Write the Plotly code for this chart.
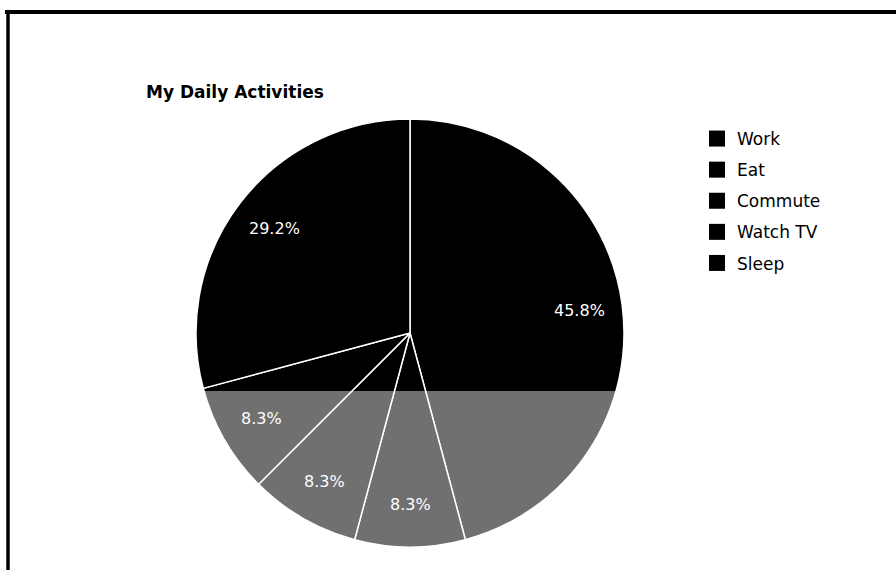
import math
import plotly.graph_objects as go

# Hours per day spent on each activity
activities = ["Work", "Eat", "Commute", "Watch TV", "Sleep"]
hours = [11, 2, 2, 2, 7]
slice_colors = ["#000000", "#000000", "#000000", "#000000", "#000000"]

W, H = 896, 577
FONT = "DejaVu Sans, Liberation Sans, Arial"

# pie geometry in page pixels
CX, CY, R = 410, 333, 214
LABEL_R = 0.8 * R


def px_x(x):
    return x / W


def px_y(y):
    return 1 - y / H


fig = go.Figure(
    go.Pie(
        labels=activities,
        values=hours,
        sort=False,
        direction="clockwise",
        rotation=0,
        marker=dict(colors=slice_colors, line=dict(color="white", width=1.5)),
        textinfo="none",
        hoverinfo="label+value+percent",
        showlegend=False,
        domain=dict(x=[px_x(CX - R), px_x(CX + R)], y=[px_y(CY + R), px_y(CY - R)]),
    )
)

# legend entries: one square-marker trace per activity, each in its own group
for name, col in zip(activities, slice_colors):
    fig.add_trace(go.Scatter(
        x=[None], y=[None], mode="markers", name=name, legendgroup=name,
        marker=dict(symbol="square", size=18, color=col),
        hoverinfo="skip", showlegend=True,
    ))

# percentage labels placed at each slice's mid-angle (clockwise from 12 o'clock)
total = sum(hours)
annotations = []
acc = 0.0
for v in hours:
    mid = (acc + v / 2) / total * 2 * math.pi
    acc += v
    lx = CX + LABEL_R * math.sin(mid)
    ly = CY - LABEL_R * math.cos(mid)
    annotations.append(dict(
        text=f"{v / total * 100:.1f}%", xref="paper", yref="paper",
        x=px_x(lx), y=px_y(ly), xanchor="center", yanchor="middle",
        showarrow=False, font=dict(size=16, color="white", family=FONT),
    ))

annotations.append(dict(
    text="<b>My Daily Activities</b>", xref="paper", yref="paper",
    x=px_x(144), y=px_y(92), xanchor="left", yanchor="middle",
    showarrow=False, font=dict(size=17, color="black", family=FONT),
))

shapes = [
    # frame lines along the top and left edges
    dict(type="line", xref="paper", yref="paper",
         x0=px_x(5), x1=1.0, y0=px_y(12), y1=px_y(12),
         line=dict(color="black", width=4), layer="above"),
    dict(type="line", xref="paper", yref="paper",
         x0=px_x(8), x1=px_x(8), y0=px_y(10), y1=px_y(570),
         line=dict(color="black", width=3.5), layer="above"),
    # pale wash over the lower band of the page
    dict(type="rect", xref="paper", yref="paper",
         x0=px_x(10), x1=1.0, y0=0.0, y1=px_y(391),
         fillcolor="rgba(255,255,255,0.44)", line=dict(width=0), layer="above"),
]

fig.update_layout(
    width=W,
    height=H,
    margin=dict(l=0, r=0, t=0, b=0),
    paper_bgcolor="white",
    plot_bgcolor="white",
    font=dict(family=FONT, color="black"),
    xaxis=dict(visible=False),
    yaxis=dict(visible=False),
    showlegend=True,
    legend=dict(
        x=px_x(697), y=px_y(121), xanchor="left", yanchor="top",
        font=dict(size=17, color="black", family=FONT),
        tracegroupgap=6, itemsizing="trace", bgcolor="rgba(0,0,0,0)",
    ),
    annotations=annotations,
    shapes=shapes,
)

fig.write_html("out.html")
